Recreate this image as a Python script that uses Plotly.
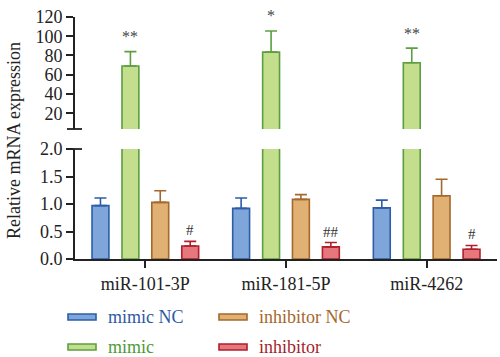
import plotly.graph_objects as go

categories = ["miR-101-3P", "miR-181-5P", "miR-4262"]
series_names = ["mimic NC", "mimic", "inhibitor NC", "inhibitor"]
mimic_nc = [0.97, 0.92, 0.93]
mimic_nc_err = [0.14, 0.19, 0.14]
mimic = [69.0, 83.5, 72.4]
mimic_err = [15.0, 22.0, 15.3]
inhibitor_nc = [1.03, 1.085, 1.15]
inhibitor_nc_err = [0.21, 0.085, 0.30]
inhibitor = [0.236, 0.22, 0.176]
inhibitor_err = [0.085, 0.08, 0.07]
mimic_marks = ["**", "*", "**"]
inhibitor_marks = ["#", "##", "#"]
upper_ticks = [20, 40, 60, 80, 100, 120]

fills = ["#7ea6da", "#c3de8c", "#e0b172", "#e6777d"]
lines = ["#2d5da6", "#5c9e40", "#a5682c", "#b01f2c"]
text_cols = ["#2d5aa3", "#4f9a36", "#a5682c", "#a51f2a"]

FONT = "Liberation Serif, Times New Roman, serif"
W, H = 500, 357
L, R, T, B = 75, 3, 17, 98
pw, ph = W - L - R, H - T - B

def px_x(p):
    return (p - L) / pw

def px_y(p):
    return (H - B - p) / ph

def f(size, color="#222"):
    return dict(family=FONT, size=size, color=color)

bar_w = 0.12
centers = [-0.319, -0.106, 0.106, 0.319]
xs = list(range(len(categories)))

values = [mimic_nc, mimic, inhibitor_nc, inhibitor]
errs = [mimic_nc_err, mimic_err, inhibitor_nc_err, inhibitor_err]

fig = go.Figure()
for i in range(4):
    fig.add_trace(go.Bar(
        x=xs, y=values[i], width=bar_w, offset=centers[i] - bar_w / 2,
        marker=dict(color=fills[i], line=dict(color=lines[i], width=1.6)),
        error_y=dict(type="data", array=errs[i], arrayminus=[0] * 3, symmetric=False,
                     color=lines[i], thickness=1.6, width=6, visible=(i != 1)),
        xaxis="x", yaxis="y", showlegend=False, name=series_names[i], hoverinfo="skip"))
# mimic on upper (broken) axis
fig.add_trace(go.Bar(
    x=xs, y=mimic, width=bar_w, offset=centers[1] - bar_w / 2,
    marker=dict(color=fills[1], line=dict(color=lines[1], width=1.6)),
    error_y=dict(type="data", array=mimic_err, arrayminus=[0] * 3, symmetric=False,
                 color=lines[1], thickness=1.6, width=6),
    xaxis="x2", yaxis="y2", showlegend=False, name=series_names[1], hoverinfo="skip"))

low_top = 2.0
up_bot = 3.6
dom_low = [0, px_y(149)]
dom_up = [px_y(129), 1]

fig.update_layout(
    width=W, height=H, margin=dict(l=L, r=R, t=T, b=B),
    paper_bgcolor="white", plot_bgcolor="white", barmode="overlay",
    font=f(17),
    xaxis=dict(range=[-0.5, 2.5], tickvals=xs, ticktext=categories, showline=True,
               linecolor="#222", linewidth=2, ticks="outside", ticklen=7, tickwidth=1.5,
               tickcolor="#222", showgrid=False, zeroline=False, tickfont=f(18),
               anchor="y"),
    xaxis2=dict(range=[-0.5, 2.5], visible=False, anchor="y2", matches="x"),
    yaxis=dict(domain=dom_low, range=[0, low_top], tickvals=[0, 0.5, 1.0, 1.5, 2.0],
               tickformat=".1f", showline=True, linecolor="#222", linewidth=2,
               ticks="outside", ticklen=7, tickwidth=1.5, tickcolor="#222",
               showgrid=False, zeroline=False, tickfont=f(18), anchor="x"),
    yaxis2=dict(domain=dom_up, range=[up_bot, 120], tickvals=upper_ticks,
                showline=True, linecolor="#222", linewidth=2,
                ticks="outside", ticklen=7, tickwidth=1.5, tickcolor="#222",
                showgrid=False, zeroline=False, tickfont=f(18), anchor="x2"),
)

shapes = []
# axis break caps
for yy in [129, 149]:
    shapes.append(dict(type="line", xref="paper", yref="paper", x0=px_x(67), x1=px_x(82),
                       y0=px_y(yy), y1=px_y(yy), line=dict(color="#222", width=1.8)))

annotations = []
# significance marks
for j in range(3):
    annotations.append(dict(x=xs[j] + centers[1], y=mimic[j] + mimic_err[j], xref="x2", yref="y2",
                            text=mimic_marks[j], showarrow=False, yanchor="middle", yshift=15,
                            font=f(16, "#444")))
    annotations.append(dict(x=xs[j] + centers[3], y=inhibitor[j] + inhibitor_err[j], xref="x", yref="y",
                            text=inhibitor_marks[j], showarrow=False, yanchor="middle", yshift=11,
                            font=f(15, "#333")))
# y title
annotations.append(dict(x=px_x(14), y=px_y(141), xref="paper", yref="paper",
                        text="Relative mRNA expression", textangle=-90, showarrow=False,
                        font=f(18), xanchor="center", yanchor="middle"))

# custom legend
legend_pos = [(68, 317), (68, 347), (219, 317), (219, 347)]
for i in range(4):
    lx, ly = legend_pos[i]
    shapes.append(dict(type="rect", xref="paper", yref="paper", x0=px_x(lx), x1=px_x(lx + 28),
                       y0=px_y(ly + 3), y1=px_y(ly - 3), fillcolor=fills[i],
                       line=dict(color=lines[i], width=1.6)))
    annotations.append(dict(x=px_x(lx + 38), y=px_y(ly), xref="paper", yref="paper",
                            text=series_names[i], showarrow=False, xanchor="left", yanchor="middle",
                            font=f(18, text_cols[i])))

fig.update_layout(shapes=shapes, annotations=annotations)
fig.write_html("out.html", config={"displayModeBar": False},
               post_script="document.body.style.margin='0';document.body.style.overflow='hidden';")
